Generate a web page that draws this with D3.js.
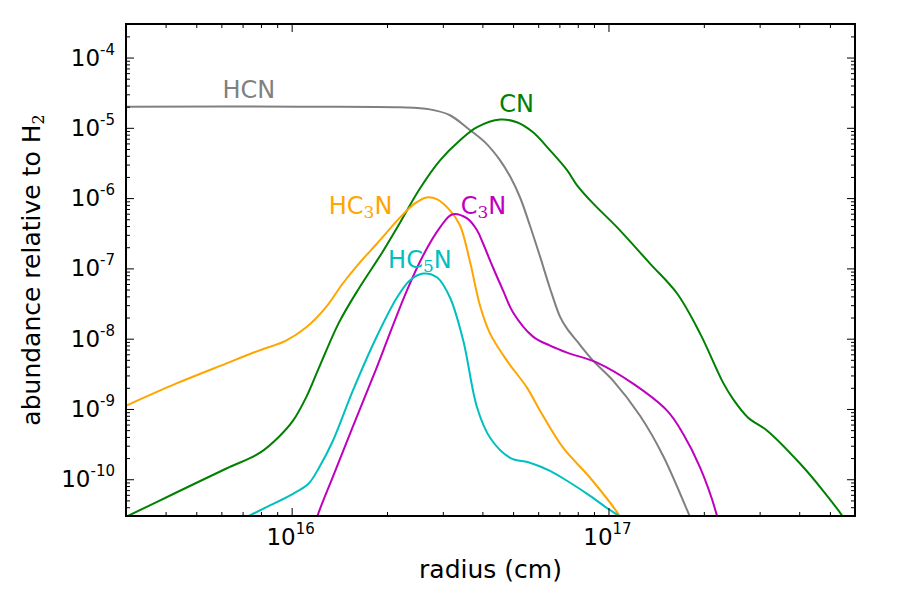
<!DOCTYPE html>
<html>
<meta charset="utf-8">
<script src="https://d3js.org/d3.v7.min.js"></script>
<style>
  body { margin: 0; background: #fff; }
  text { font-family: "DejaVu Sans", sans-serif; }
</style>
<div id="chart"></div>

<script>
// abundances (radius in cm, abundance relative to H2)
var hcnR = [3.0e15, 1.06e16, 2.2e16, 2.73e16, 3.16e16, 3.6e16, 4.08e16, 4.55e16, 4.89e16, 5.26e16, 5.65e16, 6.08e16, 6.54e16, 7.03e16, 7.4e16, 7.96e16, 8.94e16, 1.034e17, 1.258e17, 1.487e17, 1.81e17, 1.86e17];
var hcnA = [2.0e-5, 2.0e-5, 1.96e-5, 1.83e-5, 1.51e-5, 9.8e-6, 6.2e-6, 3.44e-6, 2.04e-6, 1.02e-6, 4.08e-7, 1.48e-7, 5.18e-8, 2.06e-8, 1.39e-8, 9.2e-9, 4.87e-9, 2.53e-9, 8.0e-10, 2.16e-10, 2.9e-11, 2.2e-11];

var cnR = [3.0e15, 4.31e15, 6.2e15, 7.95e15, 9.12e15, 1.01e16, 1.11e16, 1.22e16, 1.41e16, 1.63e16, 1.94e16, 2.2e16, 2.54e16, 2.94e16, 3.4e16, 3.85e16, 4.55e16, 5.14e16, 5.78e16, 6.54e16, 7.4e16, 7.96e16, 8.94e16, 1.065e17, 1.353e17, 1.647e17, 1.947e17, 2.3e17, 2.48e17, 2.76e17, 3.17e17, 4.03e17, 4.76e17, 5.47e17, 5.79e17];
var cnA = [2.92e-11, 6.43e-11, 1.41e-10, 2.39e-10, 4.03e-10, 6.81e-10, 1.45e-9, 3.87e-9, 1.69e-8, 5.18e-8, 1.74e-7, 4.51e-7, 1.37e-6, 3.44e-6, 6.64e-6, 1.02e-5, 1.31e-5, 1.20e-5, 8.63e-6, 4.78e-6, 2.5e-6, 1.52e-6, 8.40e-7, 3.83e-7, 1.17e-7, 4.39e-8, 1.18e-8, 2.37e-9, 1.36e-9, 7.52e-10, 4.91e-10, 1.66e-10, 6.86e-11, 3.02e-11, 2.0e-11];

var hc3nR = [3.0e15, 4.31e15, 6.2e15, 7.88e15, 9.6e15, 1.11e16, 1.28e16, 1.45e16, 1.63e16, 1.86e16, 2.2e16, 2.45e16, 2.67e16, 2.88e16, 3.16e16, 3.4e16, 3.66e16, 3.93e16, 4.23e16, 4.78e16, 5.53e16, 6.08e16, 7.19e16, 8.75e16, 1.088e17, 1.11e17];
var hc3nA = [1.11e-9, 2.29e-9, 4.42e-9, 6.77e-9, 9.4e-9, 1.44e-8, 2.77e-8, 6.1e-8, 1.17e-7, 2.26e-7, 5.31e-7, 8.4e-7, 1.02e-6, 9.57e-7, 6.68e-7, 4.08e-7, 1.21e-7, 2.97e-8, 1.18e-8, 4.87e-9, 2.01e-9, 9.46e-10, 2.81e-10, 1.05e-10, 2.92e-11, 2.4e-11];

var hc5nR = [6.87e15, 8.12e15, 1.01e16, 1.13e16, 1.22e16, 1.35e16, 1.56e16, 1.85e16, 2.15e16, 2.36e16, 2.6e16, 2.88e16, 3.16e16, 3.48e16, 3.85e16, 4.23e16, 4.89e16, 5.65e16, 6.54e16, 7.4e16, 8.75e16, 9.97e16, 1.088e17, 1.13e17];
var hc5nA = [2.6e-11, 3.8e-11, 6.21e-11, 8.63e-11, 1.46e-10, 3.53e-10, 1.82e-9, 1.04e-8, 3.85e-8, 6.72e-8, 8.45e-8, 7.41e-8, 3.85e-8, 9.4e-9, 1.04e-9, 3.9e-10, 2.02e-10, 1.72e-10, 1.32e-10, 9.52e-11, 5.81e-11, 3.8e-11, 2.92e-11, 2.5e-11];

var c3nR = [1.18e16, 1.21e16, 1.35e16, 1.56e16, 1.85e16, 2.04e16, 2.31e16, 2.6e16, 2.94e16, 3.21e16, 3.58e16, 3.85e16, 4.02e16, 4.32e16, 4.65e16, 5.0e16, 5.78e16, 6.54e16, 7.4e16, 9.2e16, 1.196e17, 1.531e17, 1.72e17, 1.947e17, 2.2e17, 2.23e17];
var c3nA = [2.04e-11, 3.12e-11, 1.09e-10, 5.6e-10, 3.75e-9, 1.18e-8, 4.84e-8, 1.53e-7, 3.83e-7, 5.86e-7, 5.14e-7, 3.47e-7, 2.26e-7, 1.03e-7, 4.84e-8, 2.36e-8, 1.07e-8, 7.97e-9, 6.34e-9, 4.56e-9, 2.29e-9, 9.46e-10, 4.45e-10, 1.46e-10, 3.02e-11, 2.2e-11];

// species names ("_3" = subscript 3) and where each name is written, in data units
var names  = ["HCN", "CN", "HC_3N", "C_3N", "HC_5N"];
var labelR = [7.33e15, 5.13e16, 1.65e16, 4.03e16, 2.54e16];
var labelA = [2.63e-5, 1.66e-5, 5.96e-7, 5.96e-7, 1.0e-7];

var xMajor = [1e16, 1e17];
var yMajor = [1e-10, 1e-9, 1e-8, 1e-7, 1e-6, 1e-5, 1e-4];

var colors = ["#808080", "#008000", "#ffa500", "#bf00bf", "#00bfbf"];
var series = [
  {r: hcnR, a: hcnA}, {r: cnR, a: cnA}, {r: hc3nR, a: hc3nA},
  {r: c3nR, a: c3nA}, {r: hc5nR, a: hc5nA}
];

var margin = {top: 24, right: 45, bottom: 84, left: 126},
  width = 900 - margin.left - margin.right,
  height = 600 - margin.top - margin.bottom;

var svg = d3.select("#chart")
.append("svg")
  .attr("width", width + margin.left + margin.right)
  .attr("height", height + margin.top + margin.bottom)
.append("g")
  .attr("transform", "translate(" + margin.left + "," + margin.top + ")");

var x = d3.scaleLog().domain([3e15, 6e17]).range([0, width]);
var y = d3.scaleLog().domain([3e-11, 3e-4]).range([height, 0]);

svg.append("clipPath").attr("id", "clip")
  .append("rect").attr("width", width).attr("height", height);

var line = d3.line()
  .x(function(d) { return x(d[0]); })
  .y(function(d) { return y(d[1]); })
  .curve(d3.curveCatmullRom.alpha(0.5));

series.forEach(function(s, i) {
  svg.append("path")
    .datum(d3.zip(s.r, s.a))
    .attr("clip-path", "url(#clip)")
    .attr("fill", "none")
    .attr("stroke", colors[i])
    .attr("stroke-width", 2)
    .attr("d", line);
});

// text with _n subscripts written as tspans
function richText(sel, s, subSize, shift) {
  var parts = s.split(/_(\d)/);
  parts.forEach(function(p, i) {
    if (!p) return;
    if (i % 2 === 1) {
      sel.append("tspan").attr("font-family", "DejaVu Serif")
        .attr("font-size", subSize).attr("dy", shift).text(p);
    } else {
      sel.append("tspan").attr("dy", i > 0 ? -shift : 0).text(p);
    }
  });
}

names.forEach(function(n, i) {
  svg.append("text")
    .attr("x", x(labelR[i]))
    .attr("y", y(labelA[i]))
    .attr("text-anchor", "middle")
    .attr("font-size", 24)
    .attr("fill", colors[i])
    .call(richText, n, 17, 4);
});

// frame
svg.append("rect")
  .attr("width", width).attr("height", height)
  .attr("fill", "none").attr("stroke", "black").attr("stroke-width", 2);

// inward ticks on all four sides
var xMinor = x.ticks().filter(function(v) { return xMajor.indexOf(v) < 0; });
var yMinor = y.ticks().filter(function(v) { return yMajor.indexOf(+v.toPrecision(3)) < 0; });

function tickSide(axis, vals, len, tx, ty) {
  svg.append("g")
    .attr("transform", "translate(" + tx + "," + ty + ")")
    .call(axis.tickValues(vals).tickSize(-len).tickFormat(""))
    .call(function(g) { g.select(".domain").remove(); })
    .selectAll("line").attr("stroke", "black").attr("stroke-width", 1);
}
[[xMajor, 8], [xMinor, 4]].forEach(function(t) {
  tickSide(d3.axisBottom(x), t[0], t[1], 0, height);
  tickSide(d3.axisTop(x), t[0], t[1], 0, 0);
});
[[yMajor, 8], [yMinor, 4]].forEach(function(t) {
  tickSide(d3.axisLeft(y), t[0], t[1], 0, 0);
  tickSide(d3.axisRight(y), t[0], t[1], width, 0);
});

function powLabel(sel, v) {
  sel.append("tspan").text("10");
  sel.append("tspan").attr("font-size", 15).attr("dy", -11)
    .text(String(Math.round(Math.log10(v))));
}

svg.selectAll(".xlab")
  .data(xMajor).enter().append("text")
  .attr("x", function(d) { return x(d) - 1; })
  .attr("y", height + 29)
  .attr("text-anchor", "middle")
  .attr("font-size", 23)
  .each(function(d) { powLabel(d3.select(this), d); });

svg.selectAll(".ylab")
  .data(yMajor).enter().append("text")
  .attr("x", -11)
  .attr("y", function(d) { return y(d) + 8; })
  .attr("text-anchor", "end")
  .attr("font-size", 23)
  .each(function(d) { powLabel(d3.select(this), d); });

svg.append("text")
  .attr("x", width / 2)
  .attr("y", height + 62)
  .attr("text-anchor", "middle")
  .attr("font-size", 25)
  .text("radius (cm)");

svg.append("text")
  .attr("transform", "translate(" + (40 - margin.left) + "," + (height / 2) + ") rotate(-90)")
  .attr("text-anchor", "middle")
  .attr("font-size", 25)
  .call(richText, "abundance relative to H_2", 16, 4);
</script>
</html>
